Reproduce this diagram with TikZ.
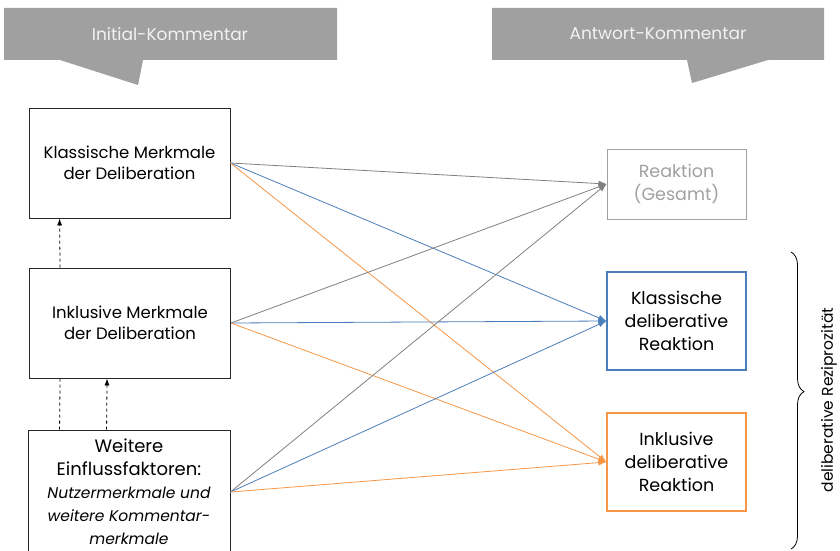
\documentclass[tikz,border=0pt]{standalone}
\usepackage{fontspec}
\setmainfont{Poppins}
\usetikzlibrary{arrows.meta,decorations.pathreplacing}
\definecolor{callgray}{HTML}{A0A0A0}
\definecolor{linegray}{HTML}{808080}
\definecolor{delblue}{HTML}{4A7EBB}
\definecolor{delorange}{HTML}{F79646}
\begin{document}
\begin{tikzpicture}[x=1pt,y=-1pt,
  box/.style={draw=black!85,line width=0.9pt,align=center,inner sep=2pt},
  link/.style={-{Latex[length=8pt,width=6pt]},line width=0.8pt},
  upline/.style={dashed,line width=0.8pt},
  uparrow/.style={upline,-{Latex[length=7pt,width=5pt]}}]
\useasboundingbox (0,0) rectangle (840,551);
% Sprechblasen
\fill[callgray] (4,8)--(337,8)--(337,60)--(143,60)--(138,85)--(60,60)--(4,60)--cycle;
\fill[callgray] (492,8)--(824,8)--(824,60)--(768,60)--(692,83)--(687,60)--(492,60)--cycle;
\node[text=white!95!black,font=\fontsize{17}{20}\selectfont] (initial) at (170,34) {Initial-Kommentar};
\node[text=white!95!black,font=\fontsize{17}{20}\selectfont] (antwort) at (658,34) {Antwort-Kommentar};
% linke Seite
\node[box,minimum width=201,minimum height=110,font=\fontsize{16.5}{21}\selectfont] (klassisch) at (129.5,163) {Klassische Merkmale\\der Deliberation};
\node[box,minimum width=201,minimum height=110,font=\fontsize{16.5}{21}\selectfont] (inklusiv) at (130,323) {Inklusive Merkmale\\der Deliberation};
\node[box,minimum width=202,minimum height=124,font=\fontsize{18}{23}\selectfont] (weitere) at (129,492) {Weitere\\Einflussfaktoren:\\{\itshape\fontsize{15.5}{20}\selectfont Nutzermerkmale und}\\{\itshape\fontsize{15.5}{19}\selectfont weitere Kommentar-}\\{\itshape\fontsize{15.5}{18}\selectfont merkmale}};
% rechte Seite
\node[box,draw=callgray,text=callgray,minimum width=139,minimum height=70,font=\fontsize{17.5}{23}\selectfont] (reaktion) at (676.5,184) {Reaktion\\(Gesamt)};
\node[box,draw=delblue,line width=1.3pt,minimum width=139,minimum height=98,font=\fontsize{17.5}{23}\selectfont] (rklassisch) at (676.5,321) {Klassische\\deliberative\\Reaktion};
\node[box,draw=delorange,line width=1.3pt,minimum width=139,minimum height=98,font=\fontsize{17.5}{23}\selectfont] (rinklusiv) at (676.5,462) {Inklusive\\deliberative\\Reaktion};
% Pfeile
\foreach \src in {klassisch,inklusiv,weitere}{
  \draw[link,linegray] (\src.east) -- (reaktion.west);
  \draw[link,delblue] (\src.east) -- (rklassisch.west);
  \draw[link,delorange] (\src.east) -- (rinklusiv.west);
}
\draw[uparrow] ([xshift=31]inklusiv.north west) -- ([xshift=31]klassisch.south west);
\draw[upline] ([xshift=32]weitere.north west) -- ([xshift=31]inklusiv.south west);
\draw[uparrow] ([xshift=79]weitere.north west) -- ([xshift=78]inklusiv.south west);
% Klammer
\draw[line width=0.8pt,decorate,decoration={brace,amplitude=13pt,aspect=0.47}] (791,252) -- (791,549);
\node[rotate=90,font=\fontsize{15.5}{18}\selectfont] (reziprok) at (829,400) {deliberative Reziprozität};
\end{tikzpicture}
\end{document}
